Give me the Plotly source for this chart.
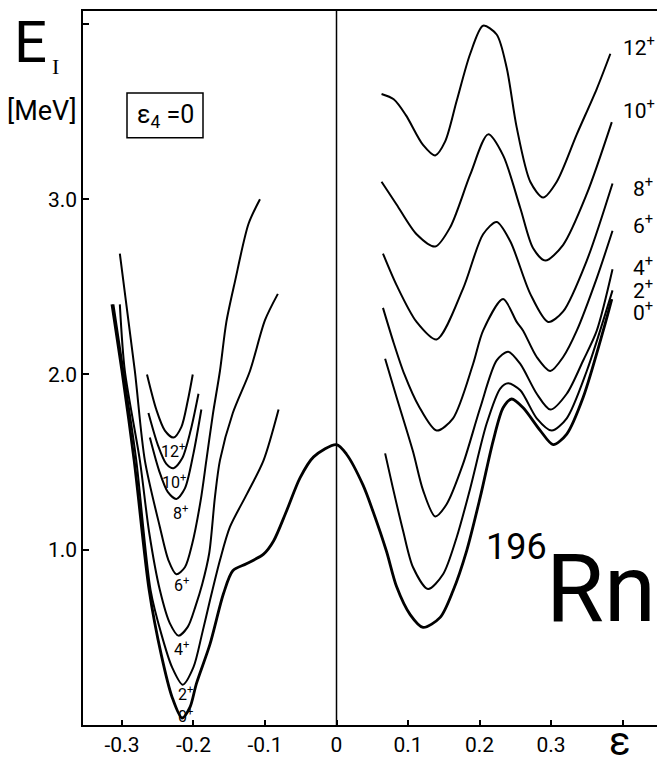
import plotly.graph_objects as go

# ---------------- data ----------------
# ground state 0+ : continuous curve
x0 = [-0.314, -0.300, -0.283, -0.262, -0.245, -0.230, -0.216, -0.205, -0.196, -0.177, -0.158,
      -0.145, -0.126, -0.102, -0.088, -0.070, -0.051, -0.032, 0.0, 0.014, 0.037, 0.051, 0.070, 0.084,
      0.103, 0.121, 0.145, 0.163, 0.182, 0.201, 0.219, 0.233, 0.245, 0.261, 0.285, 0.303, 0.322,
      0.345, 0.373, 0.385]
y0 = [2.40, 2.02, 1.51, 0.77, 0.40, 0.16, 0.04, 0.10, 0.235, 0.46, 0.75,
      0.88, 0.92, 0.975, 1.05, 1.22, 1.41, 1.53, 1.60, 1.545, 1.37, 1.22, 0.99, 0.79,
      0.63, 0.557, 0.614, 0.766, 0.994, 1.30, 1.62, 1.81, 1.86, 1.81, 1.68, 1.60, 1.66,
      1.87, 2.25, 2.43]

# left (oblate) minimum branches
xl2 = [-0.312, -0.298, -0.280, -0.260, -0.245, -0.230, -0.215, -0.200, -0.188, -0.177, -0.163, -0.149,
       -0.125, -0.102, -0.081]
yl2 = [2.40, 2.02, 1.51, 0.77, 0.52, 0.33, 0.23, 0.33, 0.52, 0.71, 0.94, 1.13, 1.32, 1.51, 1.80]
xl4 = [-0.303, -0.296, -0.275, -0.262, -0.247, -0.233, -0.221, -0.208, -0.197, -0.188, -0.178, -0.170,
       -0.163, -0.145, -0.121, -0.100, -0.082]
yl4 = [2.40, 2.02, 1.51, 1.10, 0.77, 0.58, 0.51, 0.56, 0.68, 0.80, 0.98, 1.30, 1.51, 1.78, 2.02, 2.31, 2.46]
xl6 = [-0.303, -0.282, -0.268, -0.247, -0.235, -0.224, -0.212, -0.202, -0.190, -0.182, -0.173, -0.163,
       -0.154, -0.142, -0.123, -0.107]
yl6 = [2.69, 2.02, 1.51, 1.13, 0.94, 0.86, 0.90, 1.03, 1.28, 1.51, 1.77, 2.02, 2.30, 2.53, 2.86, 3.00]
xl8 = [-0.261, -0.248, -0.236, -0.224, -0.212, -0.200, -0.189]
yl8 = [1.64, 1.45, 1.33, 1.29, 1.35, 1.55, 1.80]
xl10 = [-0.263, -0.250, -0.238, -0.228, -0.216, -0.204, -0.193]
yl10 = [1.78, 1.60, 1.49, 1.465, 1.52, 1.68, 1.89]
xl12 = [-0.265, -0.252, -0.240, -0.228, -0.217, -0.208, -0.201]
yl12 = [2.00, 1.80, 1.68, 1.64, 1.70, 1.85, 2.00]

# right (prolate) branches
xr2 = [0.068, 0.079, 0.093, 0.107, 0.128, 0.149, 0.168, 0.187, 0.210, 0.229, 0.240, 0.257, 0.280,
       0.301, 0.322, 0.350, 0.386]
yr2 = [1.55, 1.35, 1.11, 0.90, 0.776, 0.86, 1.07, 1.35, 1.72, 1.92, 1.95, 1.91, 1.75,
       1.68, 1.75, 2.02, 2.48]
xr4 = [0.068, 0.084, 0.107, 0.121, 0.138, 0.154, 0.177, 0.201, 0.224, 0.240, 0.257, 0.280, 0.299,
       0.322, 0.345, 0.364, 0.386]
yr4 = [2.09, 1.87, 1.56, 1.34, 1.19, 1.26, 1.49, 1.81, 2.08, 2.13, 2.06, 1.89, 1.80,
       1.89, 2.08, 2.25, 2.60]
xr6 = [0.065, 0.080, 0.095, 0.115, 0.140, 0.163, 0.191, 0.205, 0.233, 0.252, 0.261, 0.280, 0.299,
       0.317, 0.336, 0.364, 0.386]
yr6 = [2.38, 2.18, 2.00, 1.82, 1.68, 1.75, 2.06, 2.25, 2.43, 2.30, 2.25, 2.10, 2.02,
       2.10, 2.25, 2.55, 2.82]
xr8 = [0.065, 0.084, 0.112, 0.140, 0.177, 0.205, 0.224, 0.243, 0.271, 0.296, 0.317, 0.350, 0.386]
yr8 = [2.69, 2.51, 2.30, 2.20, 2.49, 2.80, 2.87, 2.76, 2.46, 2.30, 2.36, 2.65, 3.09]
xr10 = [0.063, 0.084, 0.112, 0.138, 0.159, 0.187, 0.212, 0.233, 0.257, 0.275, 0.292, 0.317, 0.350, 0.385]
yr10 = [3.10, 2.97, 2.80, 2.73, 2.84, 3.14, 3.37, 3.25, 2.95, 2.72, 2.65, 2.74, 3.03, 3.44]
xr12 = [0.063, 0.080, 0.097, 0.121, 0.138, 0.152, 0.168, 0.187, 0.205, 0.224, 0.238, 0.252, 0.271,
        0.289, 0.308, 0.336, 0.364, 0.383]
yr12 = [3.60, 3.57, 3.48, 3.31, 3.25, 3.33, 3.56, 3.83, 3.99, 3.94, 3.75, 3.41, 3.10,
        3.01, 3.10, 3.37, 3.63, 3.83]

x_tickvals = [-0.3, -0.2, -0.1, 0.0, 0.1, 0.2, 0.3, 0.4]
x_ticktext = ["-0.3", "-0.2", "-0.1", "0", "0.1", "0.2", "0.3", ""]
y_tickvals = [1, 2, 3, 4]
y_ticktext = ["1.0", "2.0", "3.0", ""]

spin_labels = ["0", "2", "4", "6", "8", "10", "12"]
# ------------------------------------------------------------------

FONT = "Roboto, Liberation Sans, sans-serif"

# page body has an 8px margin; plot area is placed to match the reference
PL, PR, PT, PB = 83, 663, 9, 724   # screen pixels of the plot area


def px(sx, sy):
    """screen pixel -> paper coordinates"""
    return (sx - PL) / (PR - PL), (PB - sy) / (PB - PT)


fig = go.Figure()


def add(x, y, w=2.0):
    fig.add_trace(go.Scatter(x=x, y=y, mode="lines",
                             line=dict(color="black", width=w, shape="spline", smoothing=0.8),
                             hoverinfo="skip", showlegend=False))


add(x0, y0, 2.8)
for xs, ys in [(xl2, yl2), (xl4, yl4), (xl6, yl6), (xl8, yl8), (xl10, yl10), (xl12, yl12),
               (xr2, yr2), (xr4, yr4), (xr6, yr6), (xr8, yr8), (xr10, yr10), (xr12, yr12)]:
    add(xs, ys, 2.0)


def text(sx, sy, s, size, family=FONT, xanchor="center"):
    xp, yp = px(sx, sy)
    fig.add_annotation(x=xp, y=yp, xref="paper", yref="paper", text=s, showarrow=False,
                       xanchor=xanchor, yanchor="middle",
                       font=dict(family=family, size=size, color="black"))


# right-hand spin labels (screen positions of their left edge / centre)
right_pos = [(631, 309), (631, 287), (631, 264), (631, 222), (631, 185), (621, 107), (621, 44)]
for (sx, sy), s in zip(right_pos, spin_labels):
    text(sx, sy, s + "<sup>+</sup>", 21, xanchor="left")

# left-hand spin labels (under each minimum)
left_pos = [(185, 714), (185, 692), (181, 647), (181, 583), (180, 511), (174, 480), (173, 449)]
for (sx, sy), s in zip(left_pos, spin_labels):
    text(sx, sy, s + "<sup>+</sup>", 16)

# vertical line at epsilon = 0
fig.add_shape(type="line", x0=0, x1=0, y0=0, y1=1, xref="x", yref="paper",
              line=dict(color="black", width=1.5))
# partial right frame line
fig.add_shape(type="line", x0=1, x1=1, y0=px(0, 153)[1], y1=1, xref="paper", yref="paper",
              line=dict(color="black", width=1.5))

# epsilon_4 = 0 box
bx0, by0 = px(127, 136)
bx1, by1 = px(203, 91)
fig.add_shape(type="rect", x0=bx0, x1=bx1, y0=by0, y1=by1, xref="paper", yref="paper",
              line=dict(color="black", width=1.5))
text(165, 114, "ε<sub>4</sub> =0", 25)

# nucleus label
text(516, 546, "196", 36)
text(601, 588, "Rn", 94)

# axis titles
text(30, 40, "E", 58)
text(55, 65, "I", 22, family="Liberation Serif, serif")
text(42, 109, "[MeV]", 27)
text(620, 741, "ε", 40)

fig.update_xaxes(range=[-0.3545, 0.4566], tickvals=x_tickvals, ticktext=x_ticktext,
                 showgrid=False, zeroline=False, showline=True, linecolor="black", linewidth=1.5,
                 mirror=True, ticks="inside", ticklen=5, tickwidth=1.5, tickcolor="black",
                 tickfont=dict(family=FONT, size=21, color="black"))
fig.update_yaxes(range=[0, 4.074], tickvals=y_tickvals, ticktext=y_ticktext,
                 showgrid=False, zeroline=False, showline=True, linecolor="black", linewidth=1.5,
                 ticks="inside", ticklen=6, tickwidth=1.5, tickcolor="black",
                 tickfont=dict(family=FONT, size=21, color="black"))

fig.update_layout(width=657, height=755, margin=dict(l=75, r=2, t=1, b=38),
                  paper_bgcolor="white", plot_bgcolor="white")

fig.write_html("out.html")
